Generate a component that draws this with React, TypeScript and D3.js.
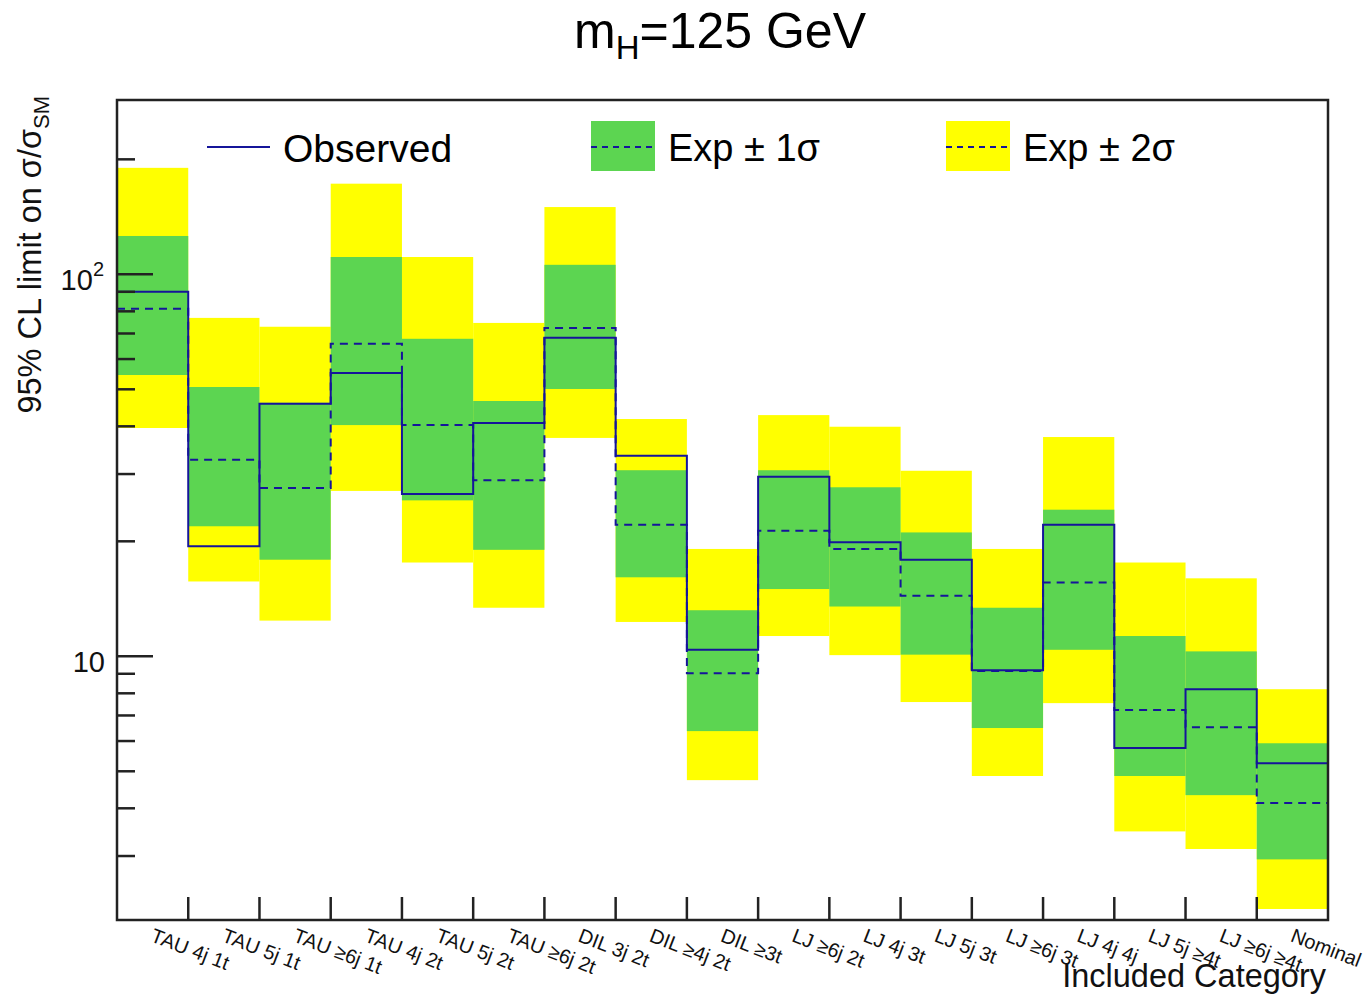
import React from "react";
import * as d3 from "d3";

const categories = [
  "TAU 4j 1t", "TAU 5j 1t", "TAU ≥6j 1t", "TAU 4j 2t", "TAU 5j 2t", "TAU ≥6j 2t",
  "DIL 3j 2t", "DIL ≥4j 2t", "DIL ≥3t", "LJ ≥6j 2t", "LJ 4j 3t", "LJ 5j 3t",
  "LJ ≥6j 3t", "LJ 4j 4j", "LJ 5j ≥4t", "LJ ≥6j ≥4t", "Nominal",
];
const observed = [90, 19.4, 45.8, 55.2, 26.6, 40.8, 68.2, 33.5, 10.4, 29.5, 19.9, 17.9, 9.2, 22.1, 5.75, 8.2, 5.25];
const expected = [81.2, 32.7, 27.6, 65.8, 40.3, 28.9, 72.4, 22.1, 9.03, 21.3, 19.1, 14.4, 9.15, 15.6, 7.23, 6.52, 4.13];
const plus1 = [126, 50.7, 46.1, 111, 67.8, 46.6, 105.9, 30.7, 13.2, 30.7, 27.7, 21.1, 13.4, 24.2, 11.3, 10.3, 5.92];
const minus1 = [54.5, 21.9, 17.9, 40.3, 25.6, 19.0, 50.1, 16.1, 6.37, 15.0, 13.5, 10.1, 6.49, 10.4, 4.86, 4.33, 2.94];
const plus2 = [190, 76.9, 72.9, 172.7, 111, 74.6, 150, 41.8, 19.1, 42.8, 39.9, 30.6, 19.1, 37.5, 17.6, 16.0, 8.2];
const minus2 = [39.6, 15.7, 12.4, 27.1, 17.6, 13.4, 37.3, 12.3, 4.74, 11.3, 10.07, 7.59, 4.86, 7.54, 3.48, 3.13, 2.18];
const majorTicks = [10, 100];
const minorTicks = [3, 4, 5, 6, 7, 8, 9, 20, 30, 40, 50, 60, 70, 80, 90, 200];

const W = 1371, H = 995;
const L = 117, R = 1328, T = 100, B = 920;
const YELLOW = "#ffff00";
const GREEN = "#5cd551";
const BLUE = "#15159a";
const FONT = "'Liberation Sans', Arial, Helvetica, sans-serif";

export default function App() {
  const x = d3.scaleBand<string>().domain(categories).range([L, R]).padding(0);
  const y = d3.scaleLog().domain([2.04, 286]).range([B, T]);
  const bw = x.bandwidth();

  const stepPts = (vals: number[]) => {
    const pts: [number, number][] = [];
    categories.forEach((c, i) => {
      const x0 = x(c)!;
      pts.push([x0, y(vals[i])]);
      pts.push([x0 + bw, y(vals[i])]);
    });
    return pts;
  };
  const line = d3.line();

  return (
    <svg width={W} height={H} style={{ position: "absolute", left: 0, top: 0, background: "#fff" }} fontFamily={FONT}>
      <rect x={0} y={0} width={W} height={H} fill="#fff" />
      {categories.map((c, i) => (
        <rect key={"y" + i} x={x(c)} y={y(plus2[i])} width={bw} height={y(minus2[i]) - y(plus2[i])} fill={YELLOW} />
      ))}
      {categories.map((c, i) => (
        <rect key={"g" + i} x={x(c)} y={y(plus1[i])} width={bw} height={y(minus1[i]) - y(plus1[i])} fill={GREEN} />
      ))}
      <path d={line(stepPts(expected))!} fill="none" stroke={BLUE} strokeWidth={2} strokeDasharray="8,6" />
      <path d={line(stepPts(observed))!} fill="none" stroke={BLUE} strokeWidth={2} />

      <rect x={L} y={T} width={R - L} height={B - T} fill="none" stroke="#222" strokeWidth={2.5} />
      {categories.slice(1).map((c) => (
        <line key={"xt" + c} x1={x(c)} x2={x(c)} y1={B} y2={B - 23} stroke="#222" strokeWidth={2.5} />
      ))}
      {majorTicks.map((v) => (
        <line key={"M" + v} x1={L} x2={L + 36} y1={y(v)} y2={y(v)} stroke="#222" strokeWidth={2.5} />
      ))}
      {minorTicks.map((v) => (
        <line key={"m" + v} x1={L} x2={L + 18} y1={y(v)} y2={y(v)} stroke="#222" strokeWidth={2.5} />
      ))}
      <text x={105} y={y(10) + 16} fontSize={29} textAnchor="end" fill="#111">10</text>
      <text x={104} y={y(100) + 16} fontSize={29} textAnchor="end" fill="#111">
        10<tspan fontSize={20} dy={-14}>2</tspan>
      </text>

      <text transform="translate(41,96) rotate(-90)" fontSize={32.5} textAnchor="end" fill="#111">
        95% CL limit on σ/σ<tspan fontSize={22} dy={8}>SM</tspan>
      </text>

      {categories.map((c) => (
        <text key={"xl" + c} transform={`translate(${x(c)! + bw / 2 - 3},941) rotate(21)`} fontSize={20} fill="#111">
          {c}
        </text>
      ))}
      <text x={1326} y={987} fontSize={32.5} textAnchor="end" fill="#111">Included Category</text>

      <text x={720} y={48} fontSize={50} textAnchor="middle" fill="#000">
        m<tspan fontSize={33} dy={11}>H</tspan><tspan dy={-11}>=125 GeV</tspan>
      </text>

      <line x1={207} x2={270} y1={147} y2={147} stroke={BLUE} strokeWidth={2} />
      <text x={283} y={162} fontSize={39} fill="#000">Observed</text>
      <rect x={591} y={121} width={64} height={50} fill={GREEN} />
      <line x1={591} x2={655} y1={147} y2={147} stroke={BLUE} strokeWidth={2} strokeDasharray="6,5" />
      <text x={668} y={161} fontSize={38} fill="#000">Exp ± 1σ</text>
      <rect x={946} y={121} width={64} height={50} fill={YELLOW} />
      <line x1={946} x2={1010} y1={147} y2={147} stroke={BLUE} strokeWidth={2} strokeDasharray="6,5" />
      <text x={1023} y={161} fontSize={38} fill="#000">Exp ± 2σ</text>
    </svg>
  );
}
